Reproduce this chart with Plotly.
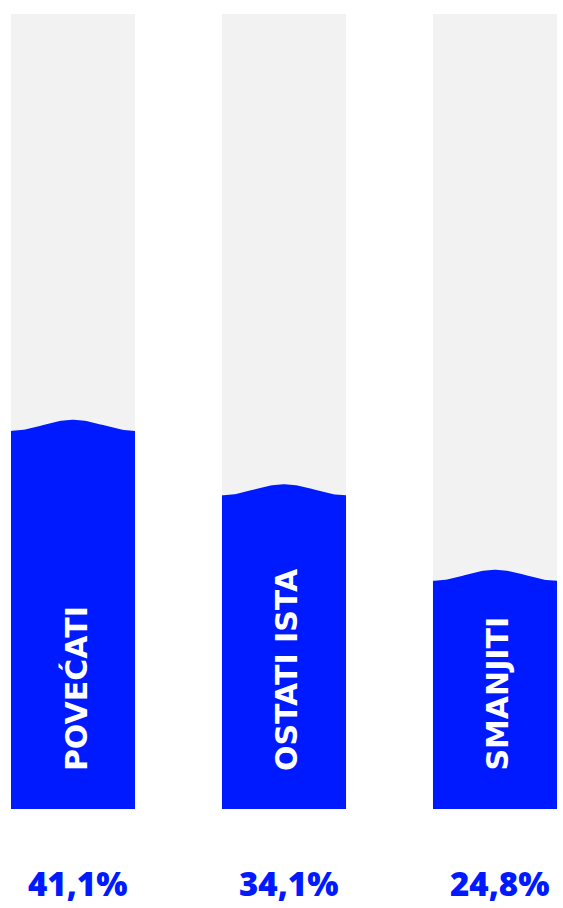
import numpy as np
import plotly.graph_objects as go

categories = ["POVEĆATI", "OSTATI ISTA", "SMANJITI"]
values = [41.1, 34.1, 24.8]
value_labels = ["41,1%", "34,1%", "24,8%"]
track_max = 86.4  # height of the grey "glass" track, in value units

BLUE = "#001AFF"
GREY = "#F2F2F2"
bar_w = 0.588
wave_amp = 1.2

fig = go.Figure()
xs = list(range(len(categories)))

# grey tracks
fig.add_trace(go.Bar(x=xs, y=[track_max] * len(xs), width=bar_w,
                     marker=dict(color=GREY, line=dict(width=0)),
                     hoverinfo="skip", showlegend=False))

# blue wavy fills
for i, v in enumerate(values):
    t = np.linspace(-0.5, 0.5, 80)
    wx = i + t * bar_w
    wy = v + wave_amp * (1 + np.cos(2 * np.pi * t)) / 2
    px = [i - bar_w / 2] + list(wx) + [i + bar_w / 2, i - bar_w / 2]
    py = [0] + list(wy) + [0, 0]
    fig.add_trace(go.Scatter(x=px, y=py, mode="lines", fill="toself",
                             fillcolor=BLUE, line=dict(width=0, color=BLUE),
                             hoverinfo="skip", showlegend=False))

for i, (c, lab) in enumerate(zip(categories, value_labels)):
    fig.add_annotation(x=i, y=3.9, xref="x", yref="y", text="<b>" + c + "</b>",
                       textangle=-90, showarrow=False,
                       xanchor="center", yanchor="bottom", xshift=2.5,
                       font=dict(family="DejaVu Sans", size=30, color="white"))
    fig.add_annotation(x=i, y=-8.15, xref="x", yref="y", text=lab,
                       showarrow=False, xanchor="center", yanchor="middle",
                       xshift=5, borderpad=0,
                       font=dict(family="Open Sans", size=33, color=BLUE, weight=800))

scale = 9.2
fig.update_layout(
    width=563, height=908,
    margin=dict(l=0, r=0, t=0, b=0),
    paper_bgcolor="white", plot_bgcolor="white",
    xaxis=dict(range=[-73 / 211, (563 - 73) / 211], visible=False, fixedrange=True),
    yaxis=dict(range=[-(908 - 809) / scale, 809 / scale], visible=False, fixedrange=True),
    bargap=0,
)

fig.write_html("out.html", config={"displayModeBar": False},
               post_script="document.body.style.margin='0';document.body.style.overflow='hidden';")
